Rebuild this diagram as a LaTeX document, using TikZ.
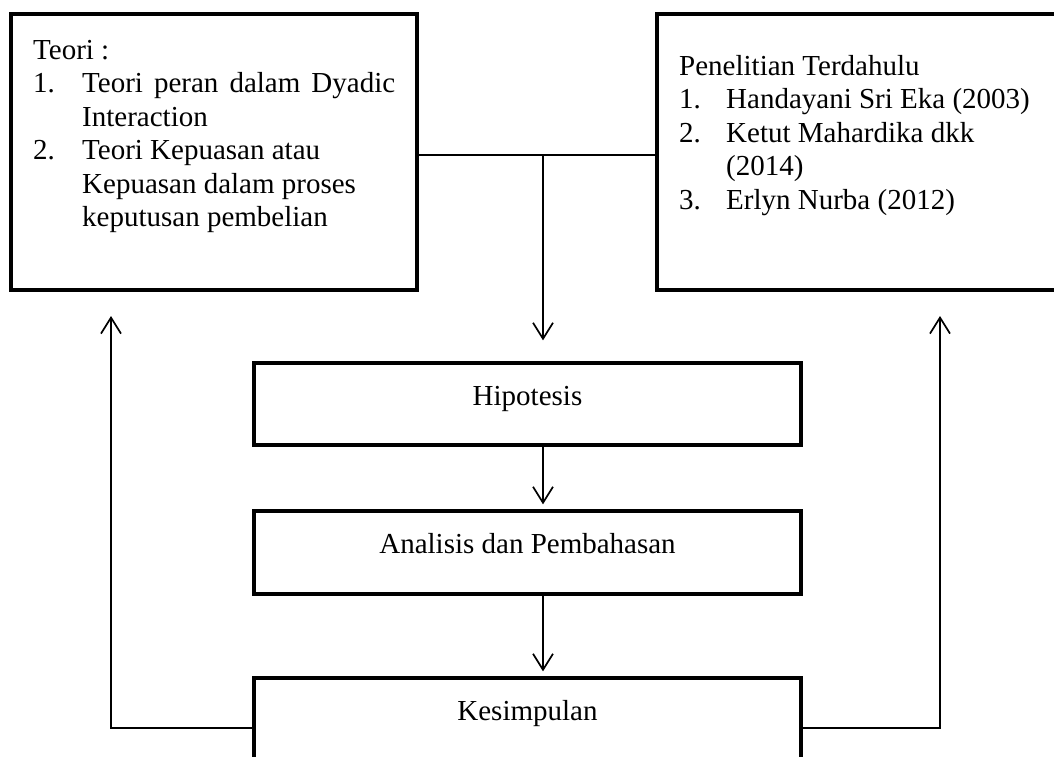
\documentclass[tikz,border=0pt]{standalone}
\usepackage{fontspec}
\setmainfont{Liberation Serif}
\usetikzlibrary{arrows.meta}
\begin{document}
\begin{tikzpicture}[x=1pt,y=-1pt,
  box/.style={draw, line width=3.3pt, rectangle, inner sep=0pt},
  conn/.style={line width=1.7pt},
  arr/.style={line width=1.7pt, -{Straight Barb[length=16pt,width=20pt]}},
  txt/.style={inner sep=0pt, anchor=base west, font=\fontsize{29}{33.5}\selectfont},
  ctxt/.style={inner sep=0pt, anchor=base, font=\fontsize{29}{33.5}\selectfont}]
\clip (0,0) rectangle (1054,756);
\fill[white] (0,0) rectangle (1054,756);
% boxes
\node[box, minimum width=406pt, minimum height=276pt] (teori) at (214,152) {};
\node[box, minimum width=406pt, minimum height=276pt] (pen) at (860,152) {};
\node[box, minimum width=547pt, minimum height=82pt] (hip) at (527.5,404) {};
\node[box, minimum width=547pt, minimum height=83pt] (ana) at (527.5,552.5) {};
\node[box, minimum width=547pt, minimum height=83pt] (kes) at (527.5,719.5) {};
% left text
\node[txt] (t0) at (33,59) {Teori :};
\node[txt] (t1) at (33,92.5) {\makebox[49pt][l]{1.}\makebox[313pt][s]{Teori peran dalam Dyadic}};
\node[txt] (t2) at (33,126) {\hspace*{49pt}Interaction};
\node[txt] (t3) at (33,159.5) {\makebox[49pt][l]{2.}Teori Kepuasan atau};
\node[txt] (t4) at (33,193) {\hspace*{49pt}Kepuasan dalam proses};
\node[txt] (t5) at (33,226.5) {\hspace*{49pt}keputusan pembelian};
% right text
\node[txt] (p0) at (679,75) {Penelitian Terdahulu};
\node[txt] (p1) at (679,108.5) {\makebox[47pt][l]{1.}Handayani Sri Eka (2003)};
\node[txt] (p2) at (679,142) {\makebox[47pt][l]{2.}Ketut Mahardika dkk};
\node[txt] (p3) at (679,175.5) {\hspace*{47pt}(2014)};
\node[txt] (p4) at (679,209) {\makebox[47pt][l]{3.}Erlyn Nurba (2012)};
% center texts
\node[ctxt] (hipt) at (527.5,405) {Hipotesis};
\node[ctxt] (anat) at (527.5,553) {Analisis dan Pembahasan};
\node[ctxt] (kest) at (527.5,720) {Kesimpulan};
% connectors
\coordinate (j) at (543,155);
\coordinate (fbL) at (111,316);
\coordinate (fbR) at (940,316);
\draw[conn] (teori.east |- j) -- (pen.west |- j);
\draw[arr] (j) -- ([yshift=21pt]hip.north -| j);
\draw[arr] (hip.south -| j) -- ([yshift=5pt]ana.north -| j);
\draw[arr] (ana.south -| j) -- ([yshift=5pt]kes.north -| j);
\draw[arr] (kes.west) ++(0,8.5) -| (fbL);
\draw[arr] (kes.east) ++(0,8.5) -| (fbR);
\end{tikzpicture}
\end{document}
